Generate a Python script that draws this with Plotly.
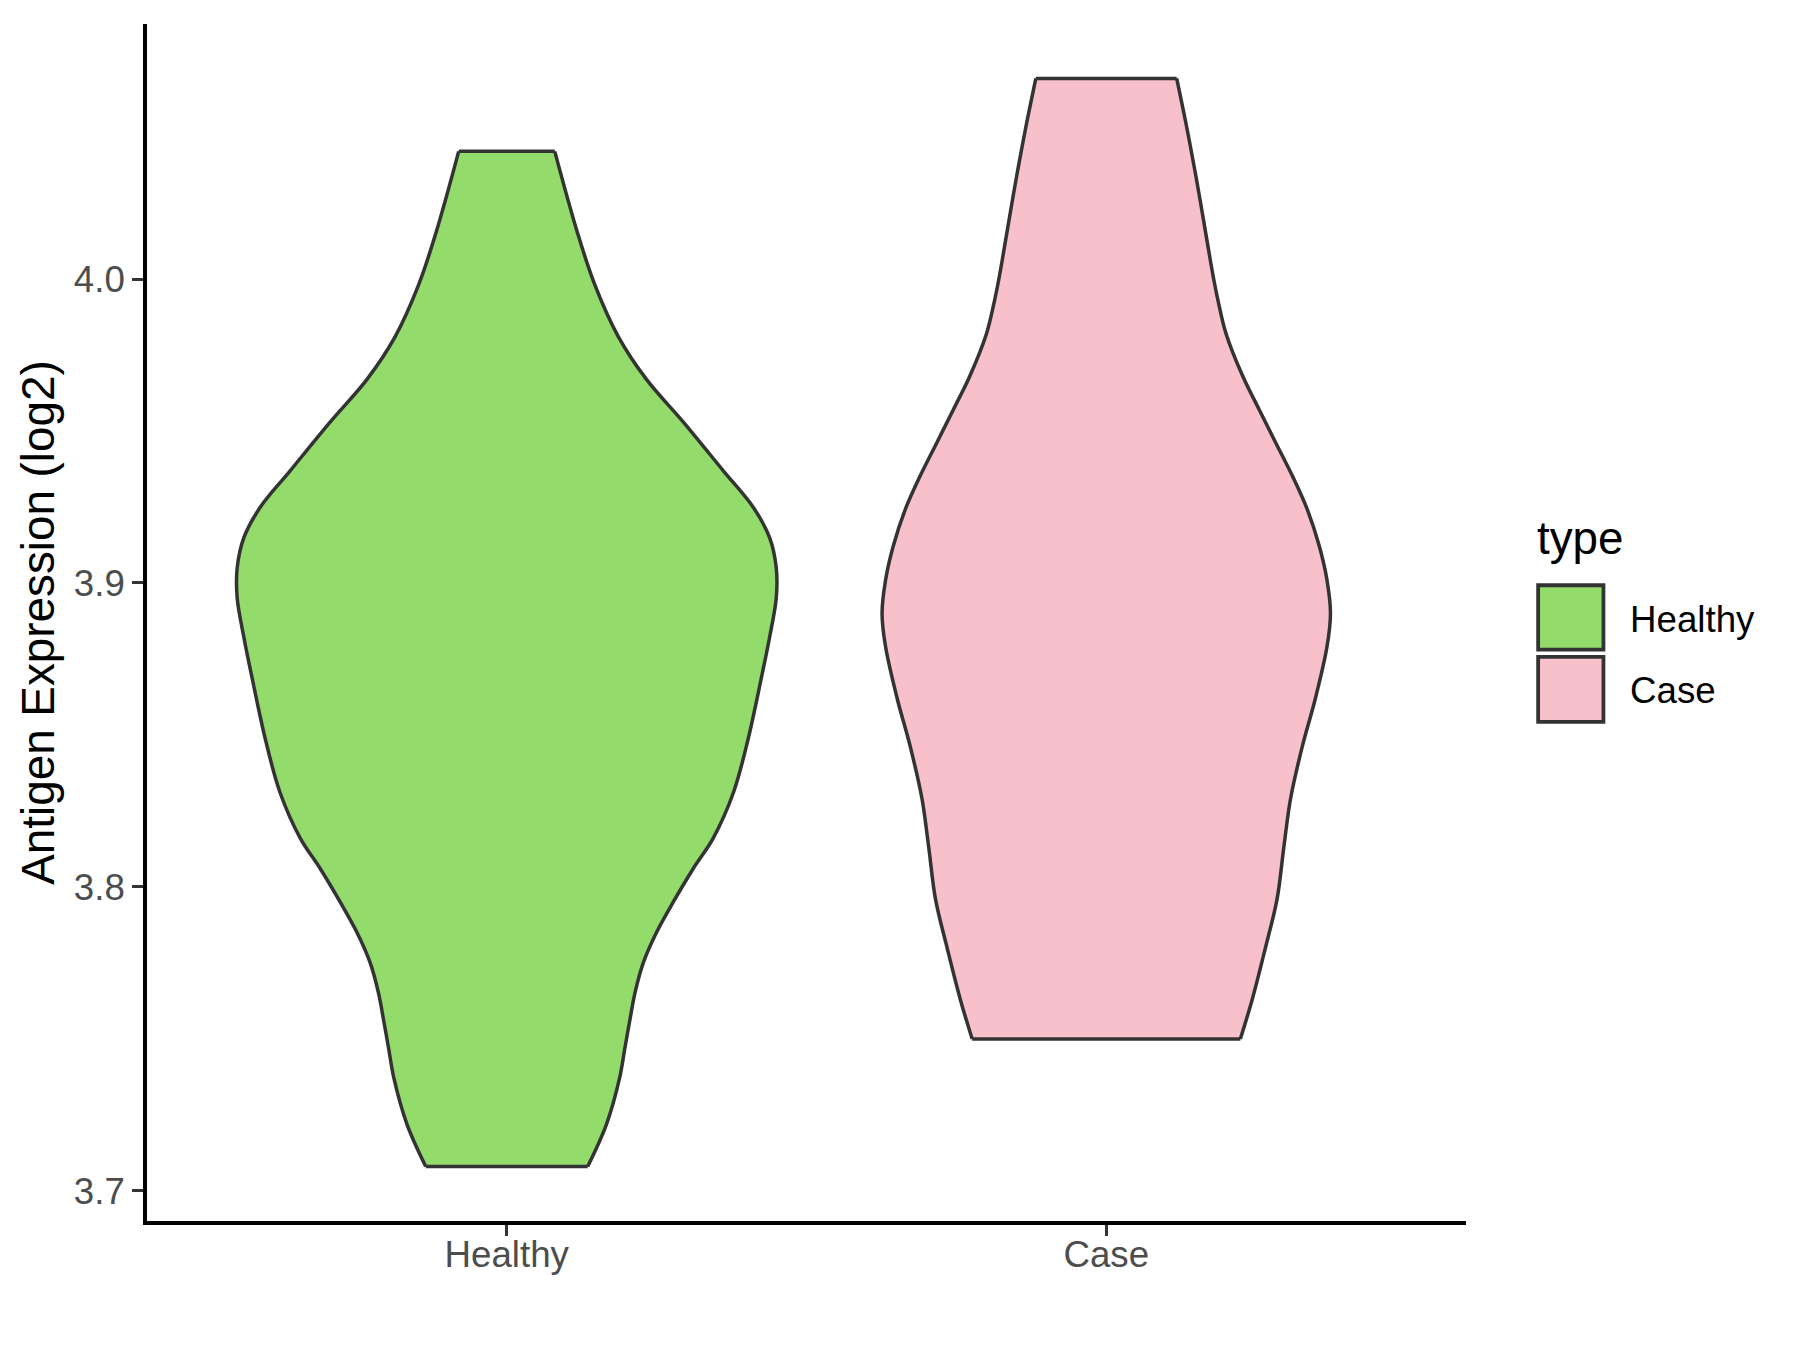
import plotly.graph_objects as go

# ---- data (violin density profiles, scaled so the widest = 1) ----
categories = ["Healthy", "Case"]
fill_colors = ["#93DB6B", "#F7C0CB"]

healthy_values = [3.708, 3.722, 3.737, 3.747, 3.756, 3.765, 3.775, 3.785, 3.795, 3.806,
                  3.816, 3.831, 3.848, 3.868, 3.882, 3.895, 3.905, 3.915, 3.925, 3.937,
                  3.953, 3.967, 3.981, 3.998, 4.015, 4.042]
healthy_density = [0.300, 0.370, 0.418, 0.438, 0.456, 0.475, 0.506, 0.555, 0.617, 0.691,
                   0.765, 0.840, 0.893, 0.942, 0.974, 0.999, 0.999, 0.974, 0.913, 0.802,
                   0.654, 0.518, 0.414, 0.327, 0.263, 0.178]

case_values = [3.750, 3.763, 3.780, 3.796, 3.813, 3.829, 3.846, 3.862, 3.879, 3.890, 3.901,
               3.912, 3.924, 3.935, 3.946, 3.957, 3.968, 3.982, 3.993, 4.001, 4.017,
               4.034, 4.050, 4.066]
case_density = [0.497, 0.541, 0.590, 0.633, 0.658, 0.683, 0.726, 0.775, 0.818, 0.831, 0.818,
                0.790, 0.746, 0.691, 0.629, 0.567, 0.506, 0.444, 0.414, 0.396, 0.365,
                0.332, 0.298, 0.261]

y_ticks = [3.7, 3.8, 3.9, 4.0]

series = [(healthy_values, healthy_density), (case_values, case_density)]

# ---- style ----
FONT = "Liberation Sans, Arial, sans-serif"
OUTLINE = "#333333"
LW = 3.5
HALF_WIDTH = 0.45  # violin width 0.9 in category units

fig = go.Figure()

for i, (vals, dens) in enumerate(series):
    pos = i + 1
    left_x = [pos - d * HALF_WIDTH for d in dens]
    right_x = [pos + d * HALF_WIDTH for d in dens]
    line_style = dict(color=OUTLINE, width=LW, shape="spline", smoothing=1)
    fig.add_trace(go.Scatter(x=left_x, y=vals, mode="lines", line=line_style,
                             showlegend=False, hoverinfo="skip"))
    fig.add_trace(go.Scatter(x=right_x, y=vals, mode="lines", line=line_style,
                             fill="tonextx", fillcolor=fill_colors[i],
                             name=categories[i], showlegend=False, hoverinfo="skip"))
    for k in (0, -1):
        fig.add_trace(go.Scatter(x=[left_x[k], right_x[k]], y=[vals[k], vals[k]],
                                 mode="lines", line=dict(color=OUTLINE, width=LW),
                                 showlegend=False, hoverinfo="skip"))

# ---- legend drawn as in ggplot (keys + labels) ----
key_x0, key_x1 = 1.0547, 1.1042
key_rows = [(0.4773, 0.5311), (0.4169, 0.4712)]
label_y = [0.5029, 0.4436]
shapes = []
annotations = []
for i, cat in enumerate(categories):
    y0, y1 = key_rows[i]
    shapes.append(dict(type="rect", xref="paper", yref="paper", x0=key_x0, x1=key_x1,
                       y0=y0, y1=y1, fillcolor=fill_colors[i],
                       line=dict(color=OUTLINE, width=3.8)))
    annotations.append(dict(xref="paper", yref="paper", x=1.1228, y=label_y[i],
                            xanchor="left", yanchor="middle", showarrow=False,
                            text=cat, font=dict(family=FONT, size=36.7, color="black")))
annotations.append(dict(xref="paper", yref="paper", x=1.0522, y=0.5698,
                        xanchor="left", yanchor="middle", showarrow=False,
                        text="type", font=dict(family=FONT, size=45.8, color="black")))

y_lo = 3.708 - 0.05 * (4.066 - 3.708)
y_hi = 4.066 + 0.05 * (4.066 - 3.708)

fig.update_layout(
    width=1800, height=1350,
    margin=dict(l=138.5, r=341.5, t=16, b=137),
    plot_bgcolor="white", paper_bgcolor="white",
    font=dict(family=FONT),
    shapes=shapes, annotations=annotations,
    showlegend=False,
    xaxis=dict(range=[0.4, 2.6], tickvals=[1, 2], ticktext=categories,
               showline=True, linecolor="black", linewidth=3.7,
               ticks="outside", ticklen=11, tickwidth=3.3, tickcolor=OUTLINE,
               ticklabelstandoff=-13,
               tickfont=dict(family=FONT, size=36.7, color="#4D4D4D"),
               showgrid=False, zeroline=False, automargin=False),
    yaxis=dict(range=[y_lo, y_hi], tickvals=y_ticks, tickformat=".1f",
               showline=True, linecolor="black", linewidth=3.7,
               ticks="outside", ticklen=11, tickwidth=3.3, tickcolor=OUTLINE,
               tickfont=dict(family=FONT, size=36.7, color="#4D4D4D"),
               showgrid=False, zeroline=False, automargin=False,
               title=dict(text="Antigen Expression (log2)", standoff=6,
                          font=dict(family=FONT, size=45.8, color="black"))),
)

fig.write_html("out.html")
